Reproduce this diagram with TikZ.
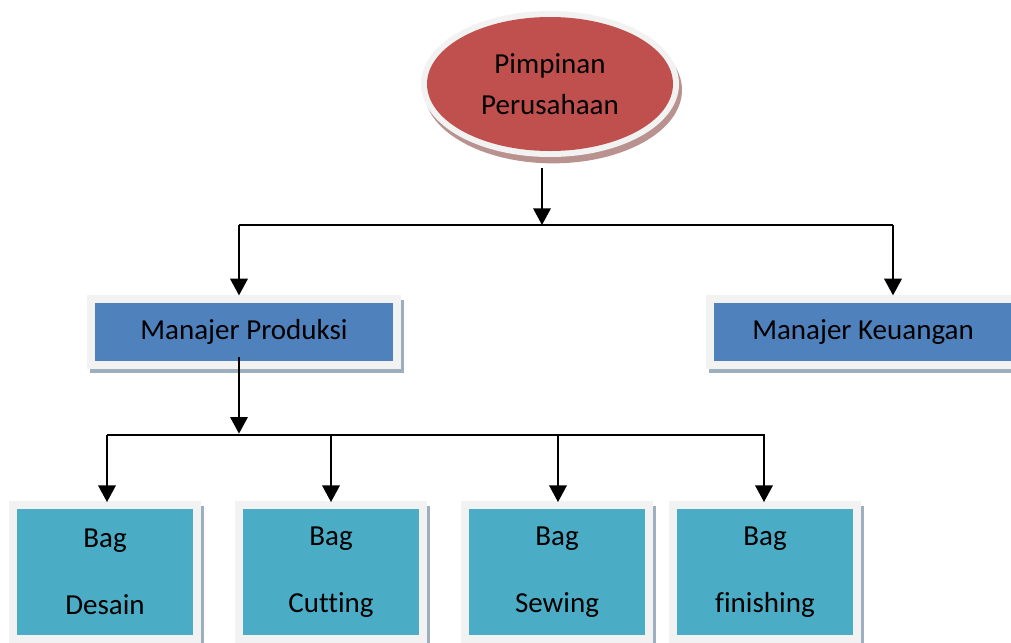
\documentclass[tikz,border=0pt]{standalone}
\usepackage{fontspec}
\setmainfont{Carlito}[Ligatures={NoCommon}]
\usetikzlibrary{arrows.meta,shapes.geometric,calc,backgrounds}
\definecolor{redc}{HTML}{C0504D}
\definecolor{bluec}{HTML}{4F81BD}
\definecolor{tealc}{HTML}{4BACC6}
\definecolor{framec}{HTML}{F2F2F2}
\definecolor{shadowb}{HTML}{9DAEBD}
\definecolor{shadowr}{HTML}{B99290}
\begin{document}
\begin{tikzpicture}[x=0.75pt,y=-0.75pt,
  txt/.style={font=\fontsize{21.75}{30.75}\selectfont, text=black, align=center},
  ell/.style={txt, ellipse, fill=redc, minimum width=184.5pt, minimum height=100.5pt, inner sep=0pt,
    preaction={draw=framec, line width=9pt}},
  mgr/.style={txt, rectangle, fill=bluec, minimum width=223.5pt, minimum height=43.5pt, inner sep=0pt,
    preaction={draw=framec, line width=12pt}},
  bag/.style={txt, font=\fontsize{21.75}{50}\selectfont, rectangle, fill=tealc, minimum width=132pt,
    minimum height=94.5pt, inner sep=0pt, preaction={draw=framec, line width=12pt}},
  ln/.style={line width=1.8pt, black},
  arr/.style={ln, -{Triangle[width=13pt,length=12.5pt]}}
]
\useasboundingbox (0,0) rectangle (1011,643);
\clip (0,0) rectangle (1011,643);

% nodes
\node[ell] (top) at (550,84) {Pimpinan\\Perusahaan};
\node[mgr] (mp) at (244,332) {Manajer Produksi};
\node[mgr] (mk) at (863,332) {Manajer Keuangan};
\node[bag] (bd) at (105,572) {Bag\\Desain};
\node[bag] (bc) at (331,572) {Bag\\Cutting};
\node[bag] (bs) at (557,572) {Bag\\Sewing};
\node[bag] (bf) at (765,572) {Bag\\finishing};

% shadows
\begin{scope}[on background layer]
  \fill[shadowr] ($(top.center)+(3,6)$) ellipse [x radius=96.75pt, y radius=55pt];
  \foreach \n in {mp,mk,bd,bc,bs,bf}{
    \fill[shadowb] ($(\n.north west)+(-5,-3)$) rectangle ($(\n.south east)+(11,12)$);
  }
\end{scope}

% connectors
\coordinate (t1) at (542,168);
\coordinate (j1) at (542,225);
\coordinate (hL) at (239,225);
\coordinate (hR) at (893,225);
\coordinate (m1) at (239,435);
\coordinate (bL) at (107,435);
\coordinate (bR) at (765,435);

\draw[arr] (t1) -- (j1);
\draw[ln] (hL) -- (hR);
\draw[arr, shorten >=5.5pt] (hL) -- (hL |- mp.north);
\draw[arr, shorten >=5.5pt] (hR) -- (hR |- mk.north);
\draw[arr, shorten >=1pt] ([yshift=3pt]hL |- mp.south) -- (m1);
\draw[ln] (bL) -- (bR);
\draw[arr, shorten >=5pt] (bL) -- (bL |- bd.north);
\draw[arr, shorten >=5pt] (bL -| bc.north) -- (bc.north);
\draw[arr, shorten >=5pt] ([xshift=0.75pt]bL -| bs.north) -- ([xshift=0.75pt]bs.north);
\draw[arr, shorten >=5pt] ([xshift=-0.75pt]bL -| bf.north) -- ([xshift=-0.75pt]bf.north);
\end{tikzpicture}
\end{document}
